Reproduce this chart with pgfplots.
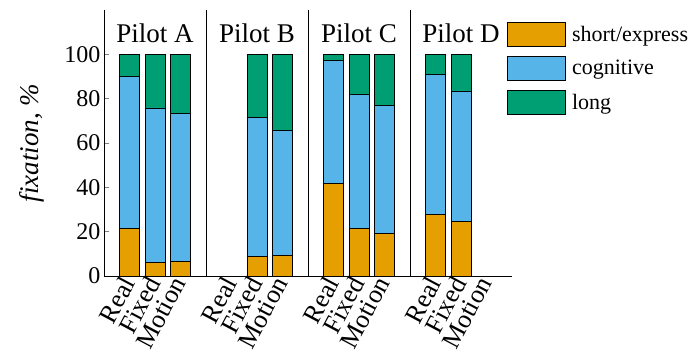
\documentclass[border=0pt]{standalone}
\usepackage{fontspec}
\setmainfont{Liberation Serif}
\usepackage{pgfplots}
\pgfplotsset{compat=1.18}
\usepackage{pgfplotstable}

\definecolor{cshort}{HTML}{E69F00}
\definecolor{ccog}{HTML}{56B4E9}
\definecolor{clong}{HTML}{009E73}

% fixation shares per pilot and condition (slots: 1-3 A, 5-7 B, 9-11 C, 13-15 D)
\pgfplotstableread{
x  short cog  long
1  21.5  68.7 9.8
2  6.0   69.8 24.2
3  6.6   66.9 26.5
6  9.0   62.7 28.3
7  9.3   56.4 34.3
9  41.8  55.3 2.9
10 21.5  60.5 18.0
11 19.4  57.7 22.9
13 27.8  63.3 8.9
14 24.8  58.7 16.5
}\fixdata

\begin{document}
\begin{tikzpicture}
\begin{axis}[
  name=ax,
  scale only axis,
  width=408pt, height=266pt,
  xmin=0, xmax=16,
  ymin=0, ymax=120,
  ybar stacked,
  bar width=0.78,
  axis x line=bottom,
  axis y line=left,
  axis line style={-, line width=0.8pt},
  ytick={0,20,40,60,80,100},
  yticklabel style={font=\fontsize{24}{28}\selectfont},
  /pgf/number format/assume math mode=true,
  xtick={1,2,3,5,6,7,9,10,11,13,14,15},
  xticklabels={Real,Fixed,Motion,Real,Fixed,Motion,Real,Fixed,Motion,Real,Fixed,Motion},
  xticklabel style={font=\fontsize{26}{28}\selectfont, rotate=62, anchor=east, inner sep=3pt},
  x tick style={draw=none},
  tick align=inside,
  major tick length=5pt,
  y tick style={line width=0.8pt},
  ylabel={\itshape fixation, \%},
  every axis y label/.style={at={(ticklabel cs:0.5,13pt)}, rotate=90, anchor=south,
    font=\fontsize{27}{30}\selectfont},
  legend style={
    at={(1,1)}, anchor=north west, xshift=-5pt, yshift=-12pt,
    draw=none, fill=none, inner sep=0pt,
    font=\fontsize{22}{24}\selectfont,
    row sep=9pt,
    nodes={inner sep=0pt, anchor=west},
    /tikz/every odd column/.append style={column sep=6pt},
  },
  legend cell align=left,
  legend image code/.code={\draw[#1, line width=0.8pt] (0pt,-12pt) rectangle (58pt,12pt);},
  clip=false,
]
\addplot[fill=cshort, draw=black, line width=0.8pt] table[x=x, y=short] {\fixdata};
\addplot[fill=ccog, draw=black, line width=0.8pt] table[x=x, y=cog] {\fixdata};
\addplot[fill=clong, draw=black, line width=0.8pt] table[x=x, y=long] {\fixdata};
\legend{short/express, cognitive, long}

% pilot separators
\draw[line width=0.8pt] (axis cs:4,0) -- (axis cs:4,120);
\draw[line width=0.8pt] (axis cs:8,0) -- (axis cs:8,120);
\draw[line width=0.8pt] (axis cs:12,0) -- (axis cs:12,120);

% pilot titles
\node[font=\fontsize{27}{30}\selectfont] at (axis cs:2,109.5) {Pilot A};
\node[font=\fontsize{27}{30}\selectfont] at (axis cs:6,109.5) {Pilot B};
\node[font=\fontsize{27}{30}\selectfont] at (axis cs:10,109.5) {Pilot C};
\node[font=\fontsize{27}{30}\selectfont] at (axis cs:14,109.5) {Pilot D};
\end{axis}
\pgfresetboundingbox
\path[use as bounding box] ([shift={(-104pt,-84pt)}]ax.south west) rectangle ++(688pt,360pt);
\end{tikzpicture}
\end{document}
